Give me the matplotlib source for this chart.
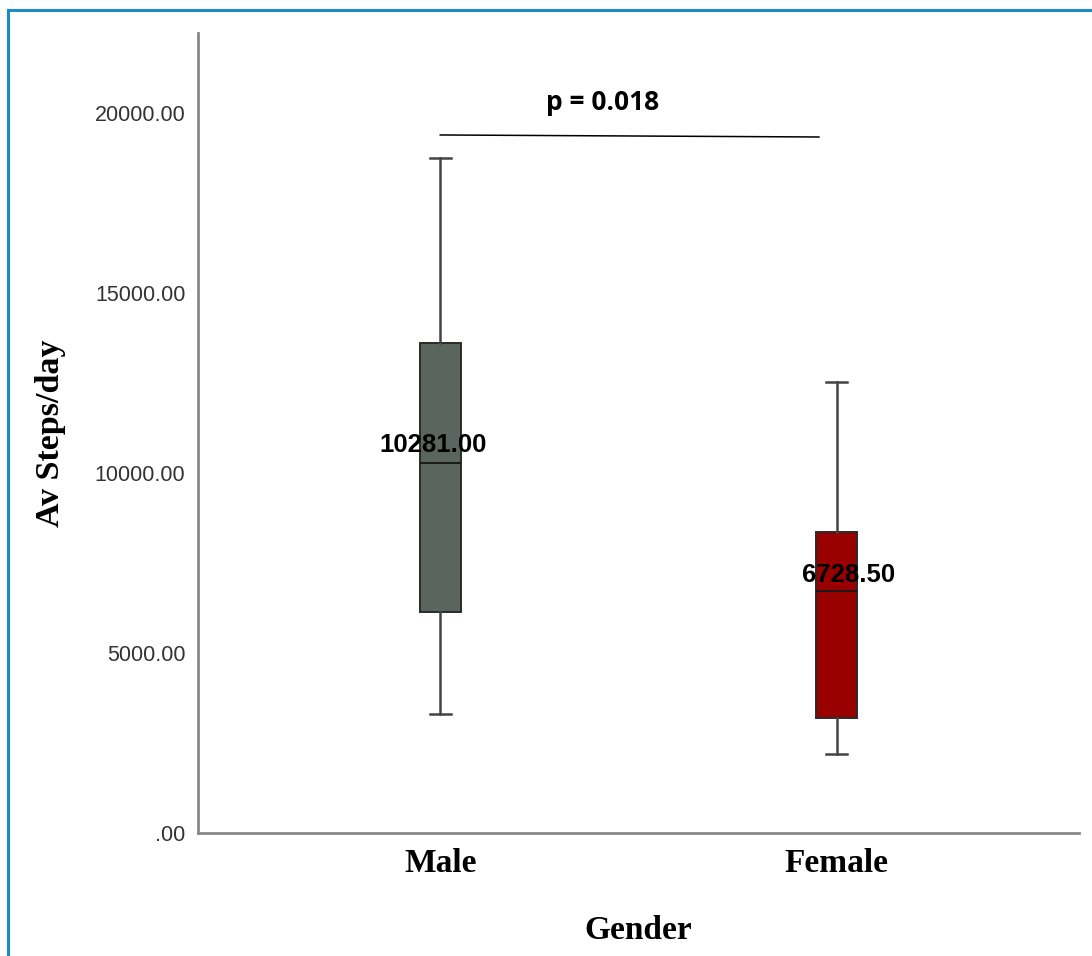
import matplotlib
matplotlib.use("Agg")

import matplotlib.pyplot as plt
from matplotlib.lines import Line2D

# data
groups = ["Male", "Female"]
whisker_low = [3306, 2194]
q1 = [6139, 3186]
medians = [10281.00, 6728.50]
q3 = [13620, 8370]
whisker_high = [18750, 12536]
box_colors = ["#5b6560", "#990000"]
p_text = "p = 0.018"
yticks = [0, 5000, 10000, 15000, 20000]
ytick_labels = [".00", "5000.00", "10000.00", "15000.00", "20000.00"]

fig = plt.figure(figsize=(10.92, 9.56), dpi=100)
ax = fig.add_axes([0.1813, 0.1287, 0.8068, 0.8368])

stats = []
for i in range(len(groups)):
    stats.append({"label": groups[i], "whislo": whisker_low[i], "q1": q1[i],
                  "med": medians[i], "q3": q3[i], "whishi": whisker_high[i],
                  "fliers": []})

bp = ax.bxp(stats, positions=[0, 1], widths=0.104, patch_artist=True,
            showfliers=False, capwidths=0.053,
            boxprops=dict(edgecolor="#2b2b2b", linewidth=1.4),
            medianprops=dict(color="#1a1a1a", linewidth=1.4),
            whiskerprops=dict(color="#444444", linewidth=1.8),
            capprops=dict(color="#444444", linewidth=1.8))
for patch, c in zip(bp["boxes"], box_colors):
    patch.set_facecolor(c)

# median labels
label_offsets = [(-7, 18), (12, 16)]
for i, m in enumerate(medians):
    ax.annotate(f"{m:.2f}", xy=(i, m), xytext=label_offsets[i],
                textcoords="offset pixels", ha="center", va="center",
                fontsize=18.5, fontweight="bold",
                family="Liberation Sans", color="black")

# significance line
ax.plot([0.0, 0.955], [19389, 19333], color="black", linewidth=1.1)
ax.text(0.41, 20280, p_text, ha="center", va="center", fontsize=19,
        fontweight="bold", family=["Open Sans", "DejaVu Sans"])

ax.set_xlim(-0.611, 1.611)
ax.set_ylim(0, 22222)
ax.set_yticks(yticks)
ax.set_yticklabels(ytick_labels, fontsize=15.5, color="#333333",
                   family="Liberation Sans")
ax.set_xticks([0, 1])
ax.set_xticklabels(groups, fontsize=24, fontweight="bold",
                   family="Liberation Serif")
ax.tick_params(axis="y", length=0, pad=9)
ax.tick_params(axis="x", length=0, pad=11)

for s in ["top", "right"]:
    ax.spines[s].set_visible(False)
for s in ["left", "bottom"]:
    ax.spines[s].set_color("#888888")
    ax.spines[s].set_linewidth(2)

ax.set_ylabel("Av Steps/day", fontsize=24.5, fontweight="bold",
              family="Liberation Serif", labelpad=21)
ax.set_xlabel("Gender", fontsize=24, fontweight="bold",
              family="Liberation Serif", labelpad=26)

# blue frame (top and left edges)
fig.add_artist(Line2D([8 / 1092, 1], [1 - 10 / 956, 1 - 10 / 956],
                      transform=fig.transFigure, color="#1a8bc3", linewidth=2.2))
fig.add_artist(Line2D([8 / 1092, 8 / 1092], [0, 1 - 10 / 956],
                      transform=fig.transFigure, color="#1a8bc3", linewidth=2.2))

plt.savefig("out.png", dpi=100)
